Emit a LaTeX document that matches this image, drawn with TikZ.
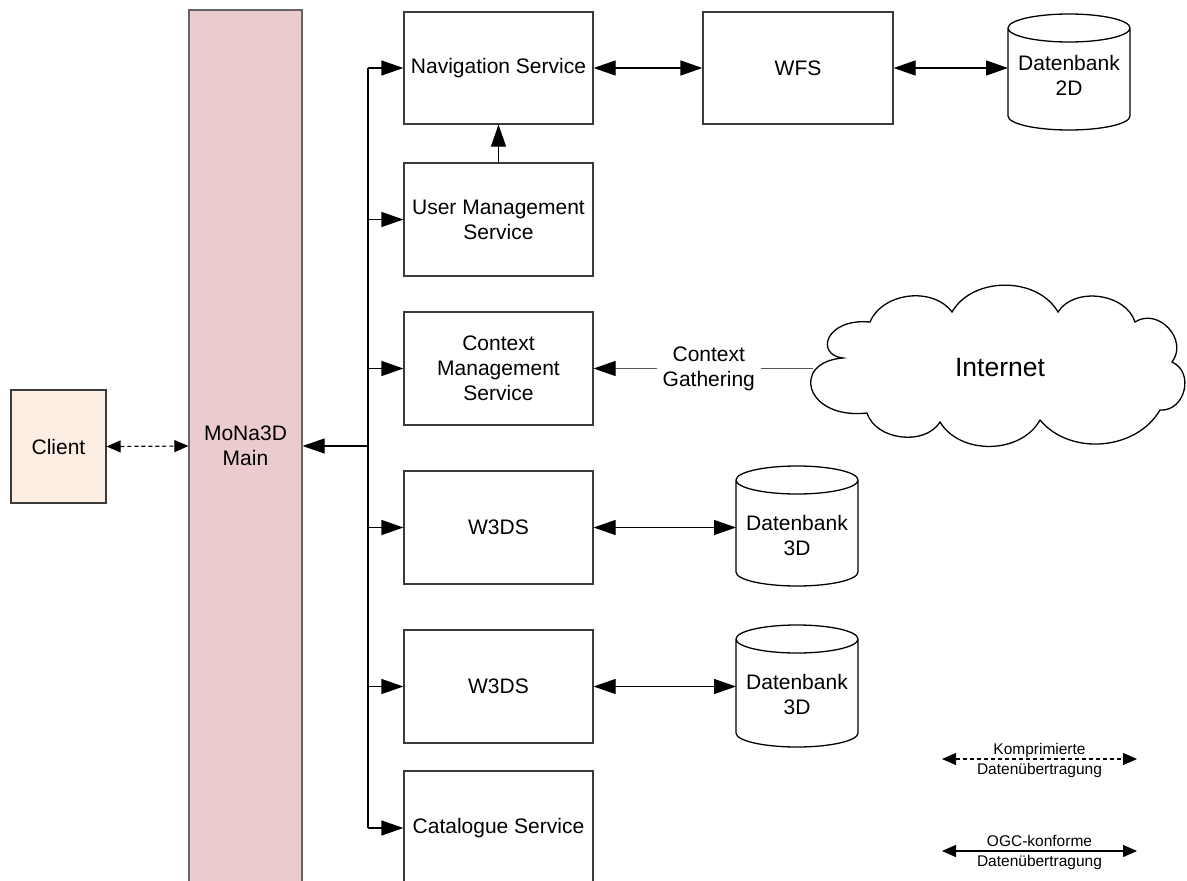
\documentclass[tikz,border=0pt]{standalone}
\usepackage{fontspec}
\setmainfont{Liberation Sans}
\usetikzlibrary{arrows.meta,calc}
\definecolor{mainfill}{HTML}{EBCBCB}
\definecolor{clientfill}{HTML}{FDEEE3}
\definecolor{edge}{HTML}{3A3A3A}
\newcommand{\dbcyl}[3]{%
  \draw[cyl] (#1-61,-#2-14) -- (#1-61,-#3+14)
    arc[start angle=180,end angle=360,x radius=61,y radius=14]
    -- (#1+61,-#2-14)
    arc[start angle=0,end angle=180,x radius=61,y radius=14]
    arc[start angle=180,end angle=360,x radius=61,y radius=14];
}
\begin{document}
\begin{tikzpicture}[x=1pt,y=1pt,
  txt/.style={align=center,inner sep=0pt,font=\fontsize{21}{25}\selectfont},
  box/.style={txt,draw=edge,line width=1.2pt,fill=white},
  cyl/.style={draw=black,line width=1.3pt,fill=white},
  arr/.style={line width=1.2pt,draw=black,-{Triangle[length=22pt,width=15pt]}},
  darr/.style={line width=1.2pt,draw=black,{Triangle[length=22pt,width=15pt]}-{Triangle[length=22pt,width=15pt]}},
  sdarr/.style={line width=1.2pt,draw=black,{Triangle[length=14pt,width=12pt]}-{Triangle[length=14pt,width=12pt]}},
  dasharr/.style={sdarr,dash pattern=on 4pt off 3pt},
  legendtxt/.style={align=center,inner sep=0pt,font=\fontsize{15.5}{20}\selectfont}]
\clip (0,0) rectangle (1187,-881);
\fill[white] (0,0) rectangle (1187,-881);

% Client and main
\node[box,fill=clientfill,minimum width=95,minimum height=113] (client) at (58.5,-446.5) {Client};
\node[box,fill=mainfill,draw=black!60,minimum width=113,minimum height=872] (main) at (245.5,-446) {MoNa3D\\Main};

% services
\node[box,minimum width=189,minimum height=112] (nav) at (498.5,-68) {Navigation Service};
\node[box,minimum width=189,minimum height=113] (um) at (498.5,-219.5) {User Management\\Service};
\node[box,minimum width=189,minimum height=113] (cm) at (498.5,-368.5) {Context\\Management\\Service};
\node[box,minimum width=189,minimum height=113] (wa) at (498.5,-527.5) {W3DS};
\node[box,minimum width=189,minimum height=113] (wb) at (498.5,-686.5) {W3DS};
\node[box,minimum width=189,minimum height=114] (cat) at (498.5,-828) {Catalogue Service};
\node[box,minimum width=190,minimum height=112] (wfs) at (798,-68) {WFS};

% databases
\dbcyl{1069}{14}{130}
\node[txt] (db2d) at (1069,-75) {Datenbank\\2D};
\coordinate (db2dw) at (1008,-68);
\dbcyl{797}{466}{586}
\node[txt] (dba) at (797,-535) {Datenbank\\3D};
\coordinate (dbaw) at (736,-527.5);
\dbcyl{797}{625}{747}
\node[txt] (dbb) at (797,-694) {Datenbank\\3D};
\coordinate (dbbw) at (736,-686.5);

% cloud
\draw[line width=1.3pt,fill=white]
  (843,-358) .. controls (815,-355) and (825,-318) .. (870,-322)
  to[bend left=60] (952,-312)
  to[bend left=60] (1058,-312)
  to[bend left=65] (1135,-322)
  to[bend left=80,looseness=1.3] (1172,-362)
  to[bend left=80,looseness=1.3] (1160,-410)
  to[bend left=55] (1040,-420)
  to[bend left=60] (940,-422)
  to[bend left=65] (867,-413)
  .. controls (805,-420) and (790,-362) .. (843,-358) -- cycle;
\node[txt,font=\fontsize{26.5}{30}\selectfont] (inet) at (1000,-368) {Internet};
\coordinate (inetw) at (813,-368.5);

% bus
\coordinate (bus) at (368,-68);
\draw[line width=1.2pt] (bus |- nav.west) -- (bus |- cat.west);
\draw[arr] (bus |- main.east) -- (main.east);
\draw[arr] (bus |- nav.west) -- (nav.west);
\draw[arr] (bus |- um.west) -- (um.west);
\draw[arr] (bus |- cm.west) -- (cm.west);
\draw[arr] (bus |- wa.west) -- (wa.west);
\draw[arr] (bus |- wb.west) -- (wb.west);
\draw[arr] (bus |- cat.west) -- (cat.west);

% other connectors
\draw[dasharr] (client.east) -- (main.west);
\draw[arr] (um.north) -- (nav.south);
\draw[darr] (nav.east) -- (wfs.west);
\draw[darr] (wfs.east) -- (db2dw);
\draw[darr] (wa.east) -- (dbaw);
\draw[darr] (wb.east) -- (dbbw);
\draw[line width=1.2pt,draw=black!65,-{Triangle[length=22pt,width=15pt,color=black]}] (inetw) -- node[txt,pos=0.475,fill=white,inner xsep=6pt,inner ysep=2pt]{Context\\Gathering} (cm.east);

% legend
\coordinate (ka) at (942,-759);
\coordinate (kb) at (1137,-759);
\draw[dasharr] (ka) -- (kb);
\node[legendtxt] (kt) at ($(ka)!0.5!(kb)+(0,-1)$) {Komprimierte\\Datenübertragung};
\coordinate (oa) at (942,-851);
\coordinate (ob) at (1137,-851);
\draw[sdarr] (oa) -- (ob);
\node[legendtxt] (ot) at ($(oa)!0.5!(ob)+(0,-1)$) {OGC-konforme\\Datenübertragung};
\end{tikzpicture}
\end{document}
